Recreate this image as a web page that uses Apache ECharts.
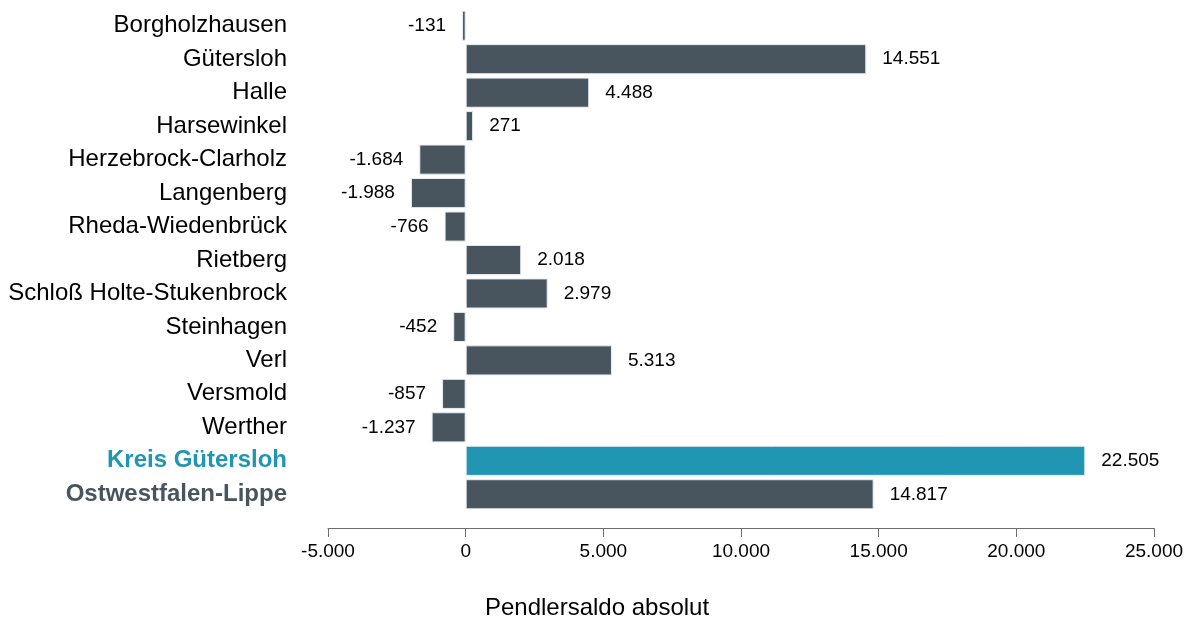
<!DOCTYPE html>
<html lang="de">
<head>
<meta charset="utf-8">
<title>Pendlersaldo</title>
<script src="https://cdn.jsdelivr.net/npm/echarts@6/dist/echarts.min.js"></script>
<style>
  html, body { margin: 0; padding: 0; background: #fff; }
  #chart { width: 1194px; height: 619px; }
</style>
</head>
<body>
<div id="chart"></div>
<script>
var orte = ['Borgholzhausen', 'Gütersloh', 'Halle', 'Harsewinkel', 'Herzebrock-Clarholz',
  'Langenberg', 'Rheda-Wiedenbrück', 'Rietberg', 'Schloß Holte-Stukenbrock', 'Steinhagen',
  'Verl', 'Versmold', 'Werther', 'Kreis Gütersloh', 'Ostwestfalen-Lippe'];
var saldo = [-131, 14551, 4488, 271, -1684, -1988, -766, 2018, 2979, -452, 5313, -857, -1237, 22505, 14817];
var xTicks = [-5000, 0, 5000, 10000, 15000, 20000, 25000];

var dunkel = '#48555f';
var tuerkis = '#2196b3';

function fmt(v) {
  var s = String(Math.abs(v)).replace(/\B(?=(\d{3})+(?!\d))/g, '.');
  return (v < 0 ? '-' : '') + s;
}

var daten = saldo.map(function (v, i) {
  return {
    value: v,
    itemStyle: { color: orte[i] === 'Kreis Gütersloh' ? tuerkis : dunkel },
    label: { position: v < 0 ? 'left' : 'right' }
  };
});

var chart = echarts.init(document.getElementById('chart'));
chart.setOption({
  animation: false,
  textStyle: { fontFamily: 'Liberation Sans, Arial, sans-serif' },
  title: {
    text: 'Pendlersaldo absolut',
    left: 'center',
    top: 591,
    textStyle: { fontSize: 24, fontWeight: 'normal', color: '#000' }
  },
  grid: { left: 328, right: 40, top: 9, bottom: 108, containLabel: false },
  xAxis: {
    type: 'value',
    min: xTicks[0],
    max: xTicks[xTicks.length - 1],
    interval: 5000,
    offset: 17,
    splitLine: { show: false },
    axisLine: { show: true, lineStyle: { color: '#6e6e6e', width: 1 } },
    axisTick: { show: true, length: 9, lineStyle: { color: '#6e6e6e' } },
    axisLabel: { fontSize: 19, color: '#000', margin: 14, formatter: fmt }
  },
  yAxis: {
    type: 'category',
    data: orte,
    inverse: true,
    axisLine: { show: false },
    axisTick: { show: false },
    axisLabel: {
      fontSize: 24,
      color: '#000',
      margin: 41,
      formatter: function (v) {
        if (v === 'Kreis Gütersloh') return '{k|' + v + '}';
        if (v === 'Ostwestfalen-Lippe') return '{o|' + v + '}';
        return v;
      },
      rich: {
        k: { fontSize: 24, fontWeight: 'bold', color: tuerkis },
        o: { fontSize: 24, fontWeight: 'bold', color: dunkel }
      }
    }
  },
  series: [{
    type: 'bar',
    data: daten,
    barCategoryGap: '10%',
    itemStyle: { borderColor: '#e6eef2', borderWidth: 1 },
    label: {
      show: true,
      distance: 16,
      fontSize: 19,
      color: '#000',
      formatter: function (p) { return fmt(p.value); }
    }
  }]
});
</script>
</body>
</html>
